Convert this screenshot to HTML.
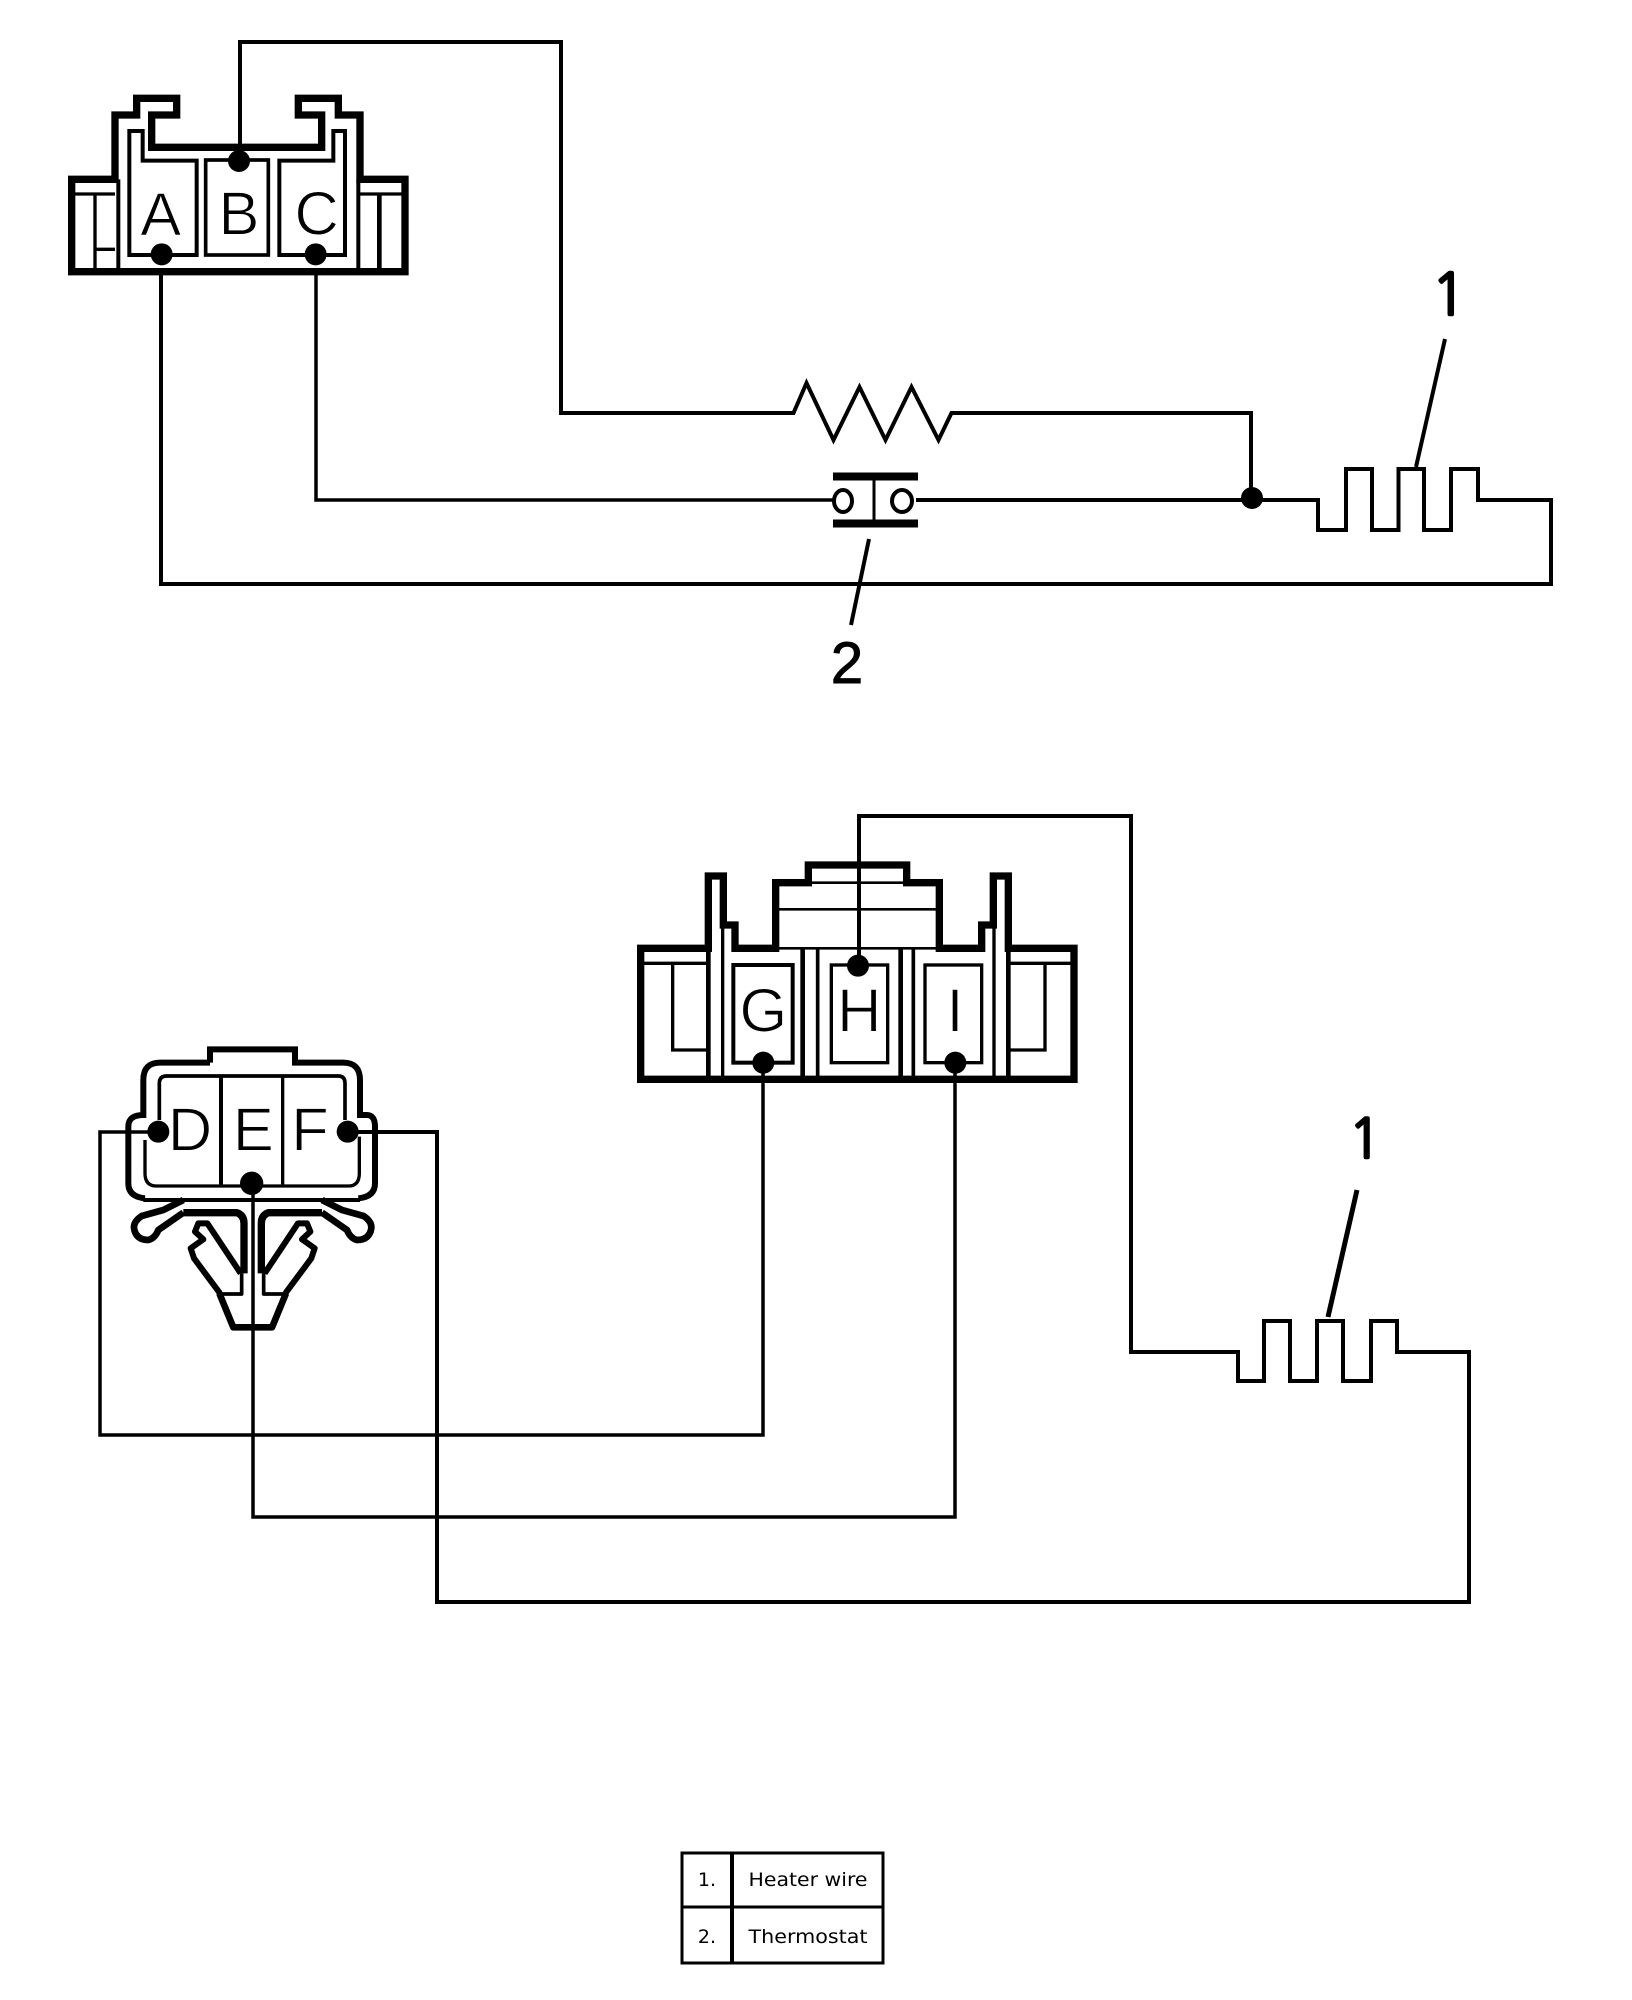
<!DOCTYPE html>
<html><head><meta charset="utf-8"><style>
html,body{margin:0;padding:0;background:#fff;width:1632px;height:2000px;overflow:hidden}
svg{display:block}
text{font-family:"Liberation Sans",sans-serif;fill:#000;text-anchor:middle}
.l{font-size:184px;stroke:#fff;stroke-width:3}
.n{font-size:58px;stroke:#000;stroke-width:1}
.o{font-family:"NanumGothic","IPAGothic",sans-serif;font-size:58px;stroke:#000;stroke-width:2.5}
.t{font-family:"DejaVu Sans","Liberation Sans",sans-serif;font-size:19px}
path,rect,line,polyline,ellipse{fill:none;stroke:#000}
circle{fill:#000;stroke:none}
</style></head><body>
<svg width="1632" height="2000" viewBox="0 0 1632 2000" xmlns="http://www.w3.org/2000/svg">
<!-- top wires -->
<g stroke-linejoin="miter">
<polyline points="240,150 240,42 561,42 561,413 793.5,413 806.5,383 833.5,440 859.5,387 885.5,440 911.500,387 938.500,440 951.500,413 1251,413 1251,498" stroke-width="4"/>
<polyline points="316,272 316,500 835,500" stroke-width="3.5"/>
<polyline points="916,500 1318,500 1318,530 1346,530 1346,469 1372,469 1372,530 1398.5,530 1398.5,469 1424,469 1424,530 1451,530 1451,469 1478,469 1478,500 1551,500 1551,584 161,584 161,272" stroke-width="4"/>
<circle cx="1252" cy="498" r="11"/>
<!-- thermostat -->
<rect x="833" y="472.500" width="85" height="8" style="fill:#000" stroke-width="0"/>
<rect x="833" y="519.500" width="85" height="8" style="fill:#000" stroke-width="0"/>
<line x1="874" y1="480" x2="874" y2="520" stroke-width="3"/>
<ellipse cx="843" cy="501" rx="9" ry="11" stroke-width="4"/>
<ellipse cx="902" cy="501" rx="10" ry="11" stroke-width="4"/>
<!-- leaders -->
<line x1="1416" y1="467" x2="1445" y2="339" stroke-width="4"/>
<line x1="869" y1="539" x2="851" y2="625" stroke-width="4"/>
</g>
<text class="o" x="1449" y="315">1</text>
<text class="n" x="847" y="683">2</text>

<!-- ABC connector -->
<g transform="translate(50 70) scale(.33333)">
<path d="M195,328 V135 H260 V85 H380 V135 H305 V232 H815 V135 H745 V85 H865 V135 H930 V328 H1065 V605 H65 V328 Z" stroke-width="22"/>
<path d="M65,372 H195 M925,372 H1065" stroke-width="10"/>
<path d="M135,372 V600 M135,538 H195" stroke-width="10"/>
<path d="M988,372 V600" stroke-width="14"/>
<path d="M205,328 V600 M925,328 V600" stroke-width="12"/>
<path d="M278,183 H238 V555 H440 V272 H278 Z" stroke-width="12"/>
<rect x="467" y="270" width="188" height="285" stroke-width="11"/>
<path d="M850,183 H885 V555 H688 V272 H850 Z" stroke-width="12"/>
<circle cx="567" cy="273" r="33"/><circle cx="335" cy="553" r="33"/><circle cx="797" cy="553" r="33"/>
<text class="l" x="332" y="497">A</text>
<text class="l" x="567" y="494">B</text>
<text class="l" x="800" y="494">C</text>
</g>

<!-- second wires -->
<g stroke-linejoin="miter">
<polyline points="859,966 859,816 1131,816 1131,1352 1238,1352 1238,1381 1264,1381 1264,1321 1290,1321 1290,1381 1317,1381 1317,1321 1343,1321 1343,1381 1371,1381 1371,1321 1397,1321 1397,1352 1469,1352 1469,1602 437,1602 437,1132 348,1132" stroke-width="4"/>
<polyline points="763,1062 763,1435 100,1435 100,1132 158,1132" stroke-width="3.500"/>
<polyline points="955,1062 955,1517 253,1517 253,1183" stroke-width="3.500"/>
<line x1="1328" y1="1317" x2="1357" y2="1190" stroke-width="5"/>
</g>
<text class="o" x="1365" y="1158" style="font-size:54px">1</text>

<!-- GHI connector -->
<g transform="translate(620 800) scale(.33333)">
<path d="M62,445 H265 V228 H310 V375 H345 V445 H467 V248 H565 V195 H860 V248 H958 V445 H1085 V375 H1120 V228 H1165 V445 H1362 V838 H62 Z" stroke-width="22"/>
<path d="M70,490 H265 M1170,490 H1355" stroke-width="10"/>
<path d="M158,495 V750 H265 M1275,495 V750 H1170" stroke-width="10"/>
<path d="M265,445 V838 M1165,445 V838" stroke-width="14"/>
<path d="M308,375 V838 M1122,375 V838" stroke-width="10"/>
<path d="M467,445 H958" stroke-width="8"/>
<path d="M548,445 V838 M842,445 V838" stroke-width="14"/>
<path d="M593,445 V838 M880,445 V838" stroke-width="11"/>
<path d="M575,248 H850 M470,328 H955" stroke-width="8"/>
<rect x="340" y="495" width="178" height="293" stroke-width="12"/>
<rect x="634" y="495" width="169" height="293" stroke-width="10"/>
<rect x="915" y="495" width="170" height="293" stroke-width="10"/>
<circle cx="714" cy="497" r="33"/><circle cx="430" cy="788" r="33"/><circle cx="1006" cy="788" r="33"/>
<text class="l" x="430" y="694">G</text>
<text class="l" x="718" y="694">H</text>
<text class="l" x="1005" y="694">I</text>
</g>

<!-- DEF connector -->
<g transform="translate(80 1040) scale(.33333)">
<path d="M390,68 V28 H645 V68 H790 Q840,68 840,120 V225 H860 Q885,225 885,260 V430 Q885,470 835,475" stroke-width="18"/>
<path d="M195,475 Q145,470 145,430 V260 Q145,225 190,225 V120 Q190,68 240,68 H390" stroke-width="18"/>
<path d="M190,480 H840" stroke-width="12"/>
<path d="M238,240 V130 Q238,108 260,108 H775 Q795,108 795,130 V240" stroke-width="11"/>
<path d="M195,300 V400 Q195,438 230,438 H805 Q838,438 838,400 V290" stroke-width="10"/>
<path d="M423,108 V438" stroke-width="12"/>
<path d="M608,108 V438" stroke-width="10"/>
<circle cx="235" cy="275" r="33"/><circle cx="803" cy="275" r="33"/><circle cx="515" cy="430" r="35"/>
<text class="l" x="330" y="332">D</text>
<text class="l" x="520" y="332">E</text>
<text class="l" x="690" y="332">F</text>
</g>

<!-- clip -->
<g transform="translate(120 1190) scale(.33333)" stroke-linejoin="round">
<g>
<path d="M190,30 L130,60 L65,78 Q40,95 42,115 Q48,150 85,150 Q105,145 115,120 L190,68" stroke-width="20"/>
<path d="M190,68 H350 Q372,75 372,100 V250" stroke-width="22"/>
<path d="M362,250 L262,100 L235,100 L225,125 L250,148 L212,175 L222,205 L300,310" stroke-width="18"/>
<path d="M365,250 V312 H300" stroke-width="11"/>
<path d="M298,310 L340,412 H398" stroke-width="20"/>
</g>
<g transform="translate(796 0) scale(-1 1)">
<path d="M190,30 L130,60 L65,78 Q40,95 42,115 Q48,150 85,150 Q105,145 115,120 L190,68" stroke-width="20"/>
<path d="M190,68 H350 Q372,75 372,100 V250" stroke-width="22"/>
<path d="M362,250 L262,100 L235,100 L225,125 L250,148 L212,175 L222,205 L300,310" stroke-width="18"/>
<path d="M365,250 V312 H300" stroke-width="11"/>
<path d="M298,310 L340,412 H398" stroke-width="20"/>
</g>
</g>

<!-- table -->
<g transform="translate(670 1850)">
<rect x="12" y="3" width="201" height="110" stroke-width="3"/>
<line x1="62" y1="3" x2="62" y2="113" stroke-width="4"/>
<line x1="12" y1="57" x2="213" y2="57" stroke-width="3"/>
<text class="t" x="37" y="36">1.</text>
<text class="t" x="138" y="36" textLength="119" lengthAdjust="spacingAndGlyphs">Heater wire</text>
<text class="t" x="37" y="93">2.</text>
<text class="t" x="138" y="93" textLength="119" lengthAdjust="spacingAndGlyphs">Thermostat</text>
</g>
</svg>
</body></html>
